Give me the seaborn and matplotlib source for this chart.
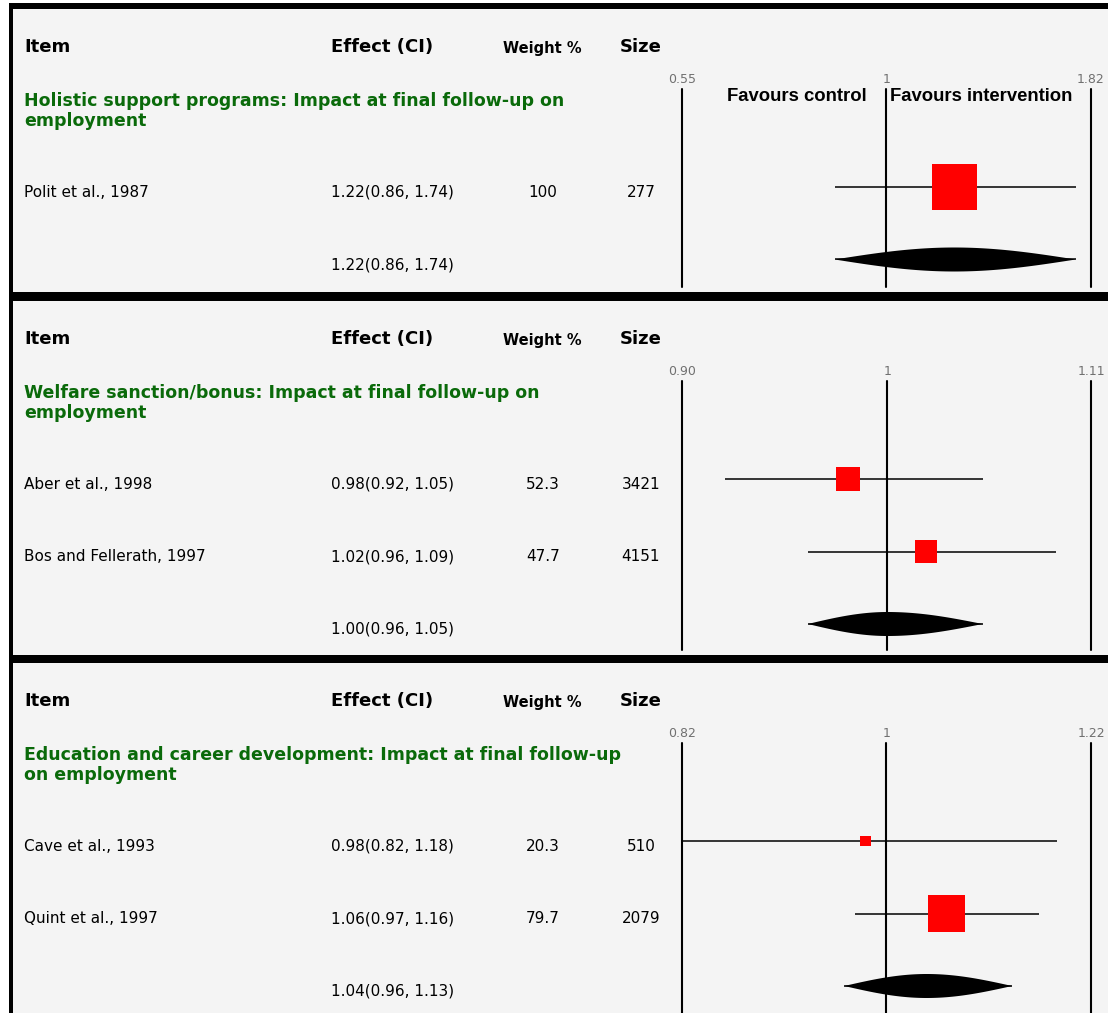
import numpy as np
import seaborn as sns
import matplotlib.pyplot as plt
from matplotlib.patches import Rectangle
from matplotlib.ticker import NullLocator

# ---- data ----
titles = [
    "Holistic support programs: Impact at final follow-up on\nemployment",
    "Welfare sanction/bonus: Impact at final follow-up on\nemployment",
    "Education and career development: Impact at final follow-up\non employment",
]
study_names = [
    ["Polit et al., 1987"],
    ["Aber et al., 1998", "Bos and Fellerath, 1997"],
    ["Cave et al., 1993", "Quint et al., 1997"],
]
effects = [[1.22], [0.98, 1.02], [0.98, 1.06]]
ci_low = [[0.86], [0.92, 0.96], [0.82, 0.97]]
ci_high = [[1.74], [1.05, 1.09], [1.18, 1.16]]
weights = [[100], [52.3, 47.7], [20.3, 79.7]]
sizes = [[277], [3421, 4151], [510, 2079]]
pooled_effect = [1.22, 1.00, 1.04]
pooled_low = [0.86, 0.96, 0.96]
pooled_high = [1.74, 1.05, 1.13]
axis_low = [0.55, 0.90, 0.82]
axis_high = [1.82, 1.11, 1.22]
tick_labels = [["0.55", "1", "1.82"], ["0.90", "1", "1.11"], ["0.82", "1", "1.22"]]

# ---- layout (pixels) ----
W, H = 1108, 1013
panel_top = [9, 301, 663]
panel_bottom = [292, 655, 1013]
forest_left, forest_right = 682, 1091
green = "#0a6a0a"
bg_gray = "#f4f4f4"

sns.set_theme(style="white")
plt.rcParams["font.family"] = ["DejaVu Sans"]
plt.rcParams["text.color"] = "black"

fig = plt.figure(figsize=(W / 100, H / 100), dpi=100)
fig.patch.set_facecolor("white")

bg = fig.add_axes([0, 0, 1, 1])
bg.set_xlim(0, W)
bg.set_ylim(H, 0)
bg.axis("off")

# panel background and the black frame / separators
bg.add_patch(Rectangle((13, 9), W - 13, H - 9, facecolor=bg_gray, edgecolor="none"))
bg.add_patch(Rectangle((9, 3), W - 9, 6, facecolor="black", edgecolor="none"))
bg.add_patch(Rectangle((9, 3), 4, H - 3, facecolor="black", edgecolor="none"))
bg.add_patch(Rectangle((9, 292), W - 9, 9, facecolor="black", edgecolor="none"))
bg.add_patch(Rectangle((9, 655), W - 9, 8, facecolor="black", edgecolor="none"))


def diamond(ax, est, lo, hi, y, half_h=12, n=40):
    """rounded (lens shaped) summary diamond, built in log space"""
    t = np.linspace(0, 1, n)
    prof = np.sin(np.pi / 2 * t)
    left_x = np.exp(np.log(lo) + (np.log(est) - np.log(lo)) * t)
    right_x = np.exp(np.log(hi) + (np.log(est) - np.log(hi)) * t[::-1])
    xs = np.concatenate([left_x, right_x[1:]])
    hs = np.concatenate([prof, prof[::-1][1:]]) * half_h
    ax.fill(np.concatenate([xs, xs[::-1]]), np.concatenate([y - hs, (y + hs)[::-1]]),
            color="black", lw=0, zorder=3)
    ax.hlines(y, lo, hi, color="black", lw=1.1, zorder=3)


for k in range(3):
    T, B = panel_top[k], panel_bottom[k]
    n = len(study_names[k])
    row_y = 178 + 72.5 * np.arange(n + 1)

    # column headers
    hy = T + 38
    bg.text(24, hy, "Item", fontsize=13, fontweight="bold", va="center")
    bg.text(331, hy, "Effect (CI)", fontsize=13, fontweight="bold", va="center")
    bg.text(542, hy + 1, "Weight %", fontsize=10.5, fontweight="bold", va="center", ha="center")
    bg.text(641, hy, "Size", fontsize=13, fontweight="bold", va="center", ha="center")

    # group title
    bg.text(24, T + 102, titles[k], fontsize=12.5, fontweight="bold", color=green,
            va="center", linespacing=1.1)

    # study rows
    for i in range(n):
        ty = T + row_y[i] + 5
        bg.text(24, ty, study_names[k][i], fontsize=11, va="center")
        bg.text(331, ty, f"{effects[k][i]:.2f}({ci_low[k][i]:.2f}, {ci_high[k][i]:.2f})",
                fontsize=11, va="center")
        bg.text(543, ty, f"{weights[k][i]:g}", fontsize=11, va="center", ha="center")
        bg.text(641, ty, f"{sizes[k][i]}", fontsize=11, va="center", ha="center")
    bg.text(331, T + row_y[n] + 5,
            f"{pooled_effect[k]:.2f}({pooled_low[k]:.2f}, {pooled_high[k]:.2f})",
            fontsize=11, va="center")

    # forest axes
    bottom_px = B - 5 if k < 2 else B
    ax = fig.add_axes([forest_left / W, 1 - bottom_px / H,
                       (forest_right - forest_left) / W, (bottom_px - T - 80) / H])
    ax.set_facecolor("none")

    ax.hlines(row_y[:n], ci_low[k], ci_high[k], color="black", lw=1.1, zorder=2)
    side_px = 0.44 * np.array(weights[k]) + 1.5
    sns.scatterplot(x=effects[k], y=row_y[:n], marker="s", s=(side_px * 0.72) ** 2,
                    color="red", edgecolor="none", linewidth=0, legend=False, ax=ax, zorder=3)

    diamond(ax, pooled_effect[k], pooled_low[k], pooled_high[k], row_y[n])

    ax.set_xscale("log")
    ax.set_xlim(axis_low[k], axis_high[k])
    ax.set_ylim(bottom_px - T, 80)
    for v in (axis_low[k], 1, axis_high[k]):
        ax.axvline(v, color="black", lw=1.5, clip_on=False, zorder=1)

    for s in ax.spines.values():
        s.set_visible(False)
    ax.xaxis.tick_top()
    ax.xaxis.set_minor_locator(NullLocator())
    ax.set_xticks([axis_low[k], 1, axis_high[k]])
    ax.set_xticklabels(tick_labels[k])
    ax.tick_params(axis="x", length=0, pad=2.5, labelsize=9, labelcolor="#707070")
    ax.set_yticks([])
    ax.set_xlabel("")
    ax.set_ylabel("")

    if k == 0:
        ax.annotate("Favours control", xy=(1, 88), xytext=(-14, 0), textcoords="offset points",
                    ha="right", va="center", fontsize=13.3, fontweight="bold",
                    family=["Liberation Sans", "DejaVu Sans"])
        ax.annotate("Favours intervention", xy=(1, 88), xytext=(3, 0), textcoords="offset points",
                    ha="left", va="center", fontsize=13.3, fontweight="bold",
                    family=["Liberation Sans", "DejaVu Sans"])

fig.savefig("out.png", dpi=100, facecolor=fig.get_facecolor())
